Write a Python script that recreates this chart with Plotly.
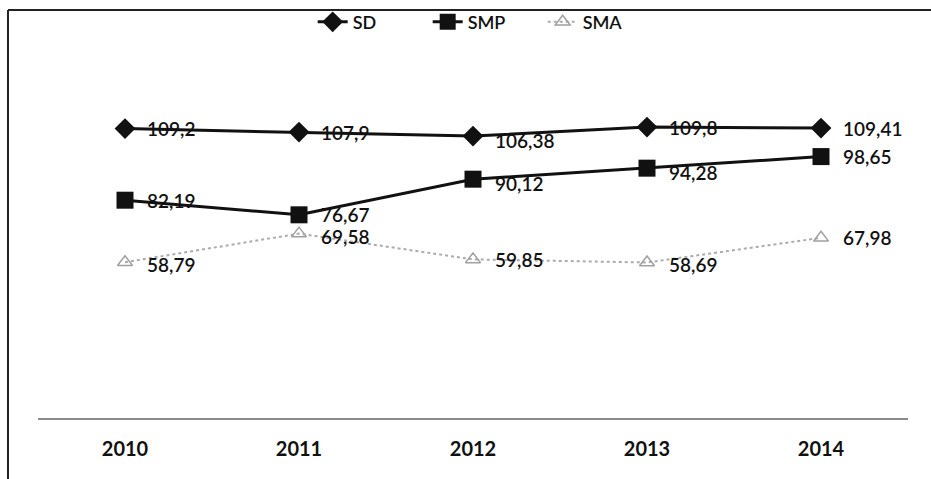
import plotly.graph_objects as go

years = ["2010", "2011", "2012", "2013", "2014"]
sd = [109.2, 107.9, 106.38, 109.8, 109.41]
smp = [82.19, 76.67, 90.12, 94.28, 98.65]
sma = [58.79, 69.58, 59.85, 58.69, 67.98]


def fmt(v):
    s = f"{v:.2f}".rstrip("0").rstrip(".")
    return s.replace(".", ",")


FONT = "Lato, 'Open Sans', sans-serif"
INK = "#111111"

fig = go.Figure()

fig.add_trace(go.Scatter(
    x=years, y=sd, name="SD", mode="lines+markers",
    line=dict(color=INK, width=3),
    marker=dict(symbol="diamond", size=16, color=INK),
    cliponaxis=False,
))

fig.add_trace(go.Scatter(
    x=years, y=smp, name="SMP", mode="lines+markers",
    line=dict(color=INK, width=3),
    marker=dict(symbol="square", size=17, color=INK),
    cliponaxis=False,
))

fig.add_trace(go.Scatter(
    x=years, y=sma, name="SMA", mode="lines+markers",
    line=dict(color="#ababab", width=2, dash="dot"),
    marker=dict(symbol="triangle-up-open", size=13, color="#a0a0a0", line=dict(width=1.5)),
    cliponaxis=False,
))

# value labels to the right of each marker (small vertical nudges per series);
# annotation x uses the category index on the category axis
label_nudges = {
    "sd": [0, 0, -4, 0, 0],
    "smp": [0, 0, -4, -4, 0],
    "sma": [-2, -3, 0, -2, 0],
}
for key, series in (("sd", sd), ("smp", smp), ("sma", sma)):
    for i, (v, dy) in enumerate(zip(series, label_nudges[key])):
        fig.add_annotation(
            x=i, y=v, xref="x", yref="y", text=fmt(v), showarrow=False,
            xanchor="left", yanchor="middle", xshift=20, yshift=dy,
            font=dict(size=19, family=FONT, color=INK, weight=600),
        )

# outer frame: top and left edges
fig.add_shape(type="line", xref="paper", yref="paper",
              x0=-0.0345, x1=1.05, y0=1.283, y1=1.283,
              line=dict(color="#222222", width=2))
fig.add_shape(type="line", xref="paper", yref="paper",
              x0=-0.0345, x1=-0.0345, y0=1.283, y1=-0.2,
              line=dict(color="#222222", width=2))

fig.update_layout(
    width=931, height=479,
    margin=dict(l=38, r=23, t=100, b=61, autoexpand=False),
    paper_bgcolor="white", plot_bgcolor="white",
    font=dict(family=FONT, size=18, color=INK),
    showlegend=True,
    legend=dict(orientation="h", x=0.514, xanchor="center", y=1.245, yanchor="middle",
                bgcolor="rgba(0,0,0,0)",
                font=dict(size=18, family=FONT, weight=600), entrywidth=70),
    xaxis=dict(
        type="category", range=[-0.5, 4.5],
        showgrid=False, zeroline=False,
        showline=True, linecolor="#8a8a8a", linewidth=2,
        ticks="", ticklabelstandoff=12,
        tickfont=dict(size=20, family=FONT, color=INK, weight="bold"),
    ),
    yaxis=dict(
        range=[0, 120], visible=False, showgrid=False, zeroline=False,
    ),
)

fig.write_html("out.html")
